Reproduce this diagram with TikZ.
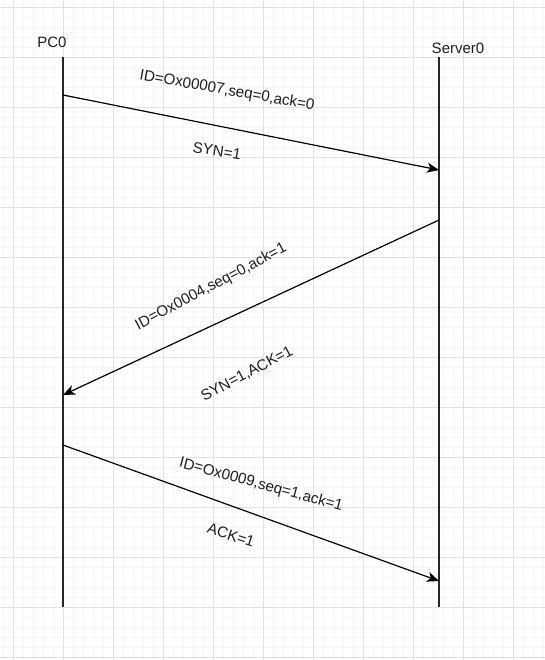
\documentclass[tikz,border=0pt]{standalone}
\usepackage{fontspec}
\setmainfont{Liberation Sans}
\usetikzlibrary{arrows.meta, positioning}
\definecolor{gridmajor}{HTML}{E2E2E2}
\definecolor{gridminor}{HTML}{F7F7F7}
\definecolor{inktext}{HTML}{1E1E1E}

\begin{document}
\begin{tikzpicture}[
    x=0.75pt, y=-0.75pt,
    lifeline/.style={draw=black!85, line width=0.9pt},
    msg/.style={-{Stealth[length=9pt, width=7.5pt, inset=2.5pt]}, line width=0.9pt, black},
    actor/.style={font=\fontsize{11.25}{13}\selectfont, text=inktext, inner sep=0pt},
    msglabel/.style={font=\fontsize{11.4}{13}\selectfont, text=inktext, inner sep=0pt}
]
    % Page and background grid
    \useasboundingbox (0,0) rectangle (545,660);
    \fill[white] (0,0) rectangle (545,660);
    \foreach \gx in {3,13,...,543} \draw[gridminor, line width=0.5pt] (\gx,0) -- (\gx,660);
    \foreach \gy in {7,17,...,657} \draw[gridminor, line width=0.5pt] (0,\gy) -- (545,\gy);
    \foreach \gx in {13,63,...,513} \draw[gridmajor, line width=0.6pt] (\gx,0) -- (\gx,660);
    \foreach \gy in {7,57,...,657} \draw[gridmajor, line width=0.6pt] (0,\gy) -- (545,\gy);

    % Actors and lifelines
    \node[actor] (pc) at (52,42) {PC0};
    \node[actor] (srv) at (458,48) {Server0};
    \coordinate (pcTop) at (63,57);
    \coordinate (pcBot) at (63,607);
    \coordinate (srvTop) at (439,57);
    \coordinate (srvBot) at (439,607);
    \draw[lifeline] (pcTop) -- (pcBot);
    \draw[lifeline] (srvTop) -- (srvBot);

    % Message end points
    \coordinate (synFrom) at (63,95);
    \coordinate (synTo) at (439,170);
    \coordinate (synackFrom) at (439,220);
    \coordinate (synackTo) at (63,395);
    \coordinate (ackFrom) at (63,445);
    \coordinate (ackTo) at (439,581);

    % Handshake messages
    \draw[msg] (synFrom) -- (synTo);
    \draw[msg] (synackFrom) -- (synackTo);
    \draw[msg] (ackFrom) -- (ackTo);

    % Message labels
    \node[msglabel, rotate=-10] (synId) at (227,91) {ID=Ox00007,seq=0,ack=0};
    \node[msglabel, rotate=-9] (synFlag) at (217,151) {SYN=1};
    \node[msglabel, rotate=28] (synackId) at (211,287) {ID=Ox0004,seq=0,ack=1};
    \node[msglabel, rotate=28] (synackFlag) at (247,374) {SYN=1,ACK=1};
    \node[msglabel, rotate=-15] (ackId) at (261,485) {ID=Ox0009,seq=1,ack=1};
    \node[msglabel, rotate=-18] (ackFlag) at (231,535) {ACK=1};
\end{tikzpicture}
\end{document}
